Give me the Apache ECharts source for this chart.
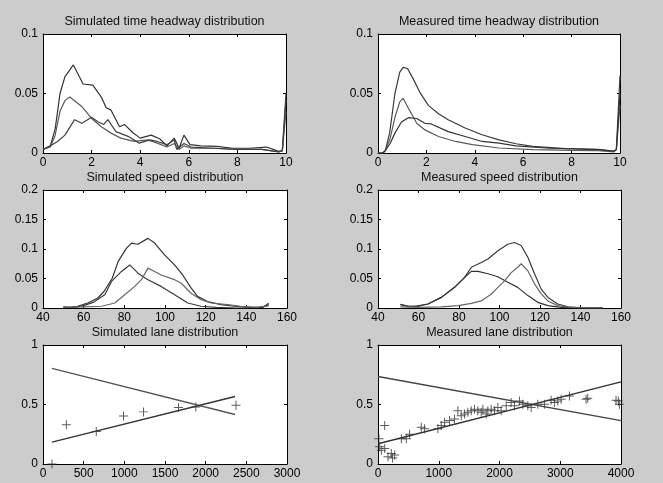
<!DOCTYPE html>
<html><head><meta charset="utf-8">
<script src="https://cdn.jsdelivr.net/npm/echarts@6/dist/echarts.min.js"></script>
<style>html,body{margin:0;padding:0;background:#cccccc}#c{width:663px;height:483px}</style>
</head><body><div id="c"></div><script>
// ---- titles ----
const titles = ['Simulated time headway distribution','Measured time headway distribution',
  'Simulated speed distribution','Measured speed distribution',
  'Simulated lane distribution','Measured lane distribution'];

// ---- simulated time headway ----
const simHwA_x = [0,0.3,0.5,0.7,0.9,1.25,1.65,2.05,2.4,2.6,2.8,3.15,3.35,3.7,4.0,4.45,4.8,5.1,5.4,5.6,5.8,6.05,6.5,7.15,7.8,8.5,9.2,9.7,9.85,10];
const simHwA_y = [0.003,0.006,0.02,0.05,0.064,0.074,0.058,0.057,0.047,0.038,0.036,0.022,0.024,0.017,0.0125,0.015,0.012,0.006,0.0125,0.004,0.015,0.007,0.006,0.0056,0.004,0.004,0.005,0.0014,0.002,0.05];
const simHwB_x = [0,0.3,0.5,0.7,0.9,1.1,1.6,2.0,2.4,2.8,3.2,3.75,4.3,4.7,5.1,5.4,5.6,5.8,6.1,7,8,9,9.7,9.85,10];
const simHwB_y = [0.003,0.005,0.015,0.035,0.044,0.047,0.039,0.029,0.022,0.0167,0.0125,0.0097,0.011,0.0083,0.005,0.008,0.003,0.006,0.004,0.004,0.003,0.003,0.001,0.002,0.035];
const simHwC_x = [0,0.3,0.6,0.9,1.3,1.6,2.0,2.27,2.5,2.67,3.0,3.5,3.96,4.4,4.7,5.1,5.4,5.5,5.8,6.1,7,8,9,9.7,9.85,10];
const simHwC_y = [0.003,0.006,0.0097,0.015,0.028,0.025,0.030,0.026,0.024,0.028,0.018,0.014,0.0083,0.011,0.0097,0.007,0.011,0.003,0.008,0.005,0.004,0.003,0.003,0.001,0.002,0.045];

// ---- measured time headway ----
const measHwA_x = [0,0.2,0.3,0.48,0.7,0.9,1.04,1.22,1.45,1.73,2.08,2.5,2.9,3.6,4.3,5.0,5.7,6.4,7.76,9.1,9.75,9.85,10];
const measHwA_y = [0,0,0.002,0.0167,0.05,0.068,0.072,0.071,0.0625,0.051,0.040,0.033,0.028,0.021,0.0153,0.011,0.0078,0.0056,0.0036,0.0028,0.0014,0.003,0.065];
const measHwB_x = [0,0.2,0.3,0.5,0.7,0.9,1.04,1.3,1.6,1.94,2.5,3.2,3.9,5,6.4,8,9.1,9.75,9.85,10];
const measHwB_y = [0,0,0.002,0.012,0.03,0.043,0.046,0.036,0.025,0.0194,0.0139,0.0097,0.007,0.0042,0.0028,0.0022,0.002,0.001,0.003,0.04];
const measHwC_x = [0,0.2,0.3,0.5,0.7,0.97,1.25,1.6,1.94,2.2,2.9,3.6,4.3,5.0,5.7,7.1,9.1,9.75,9.85,10];
const measHwC_y = [0,0,0.002,0.008,0.0167,0.026,0.0297,0.029,0.025,0.0244,0.018,0.0139,0.0097,0.0083,0.006,0.004,0.003,0.0015,0.003,0.05];

// ---- simulated speed ----
const simSpA_x = [50,53,57,62,67,70,74,77,81,83.5,86.7,91.6,94.9,99.8,104.7,108.7,112.8,116,120.9,127.5,134,142,148,151];
const simSpA_y = [0.002,0.001,0.003,0.0085,0.017,0.028,0.05,0.079,0.101,0.110,0.108,0.118,0.110,0.090,0.073,0.056,0.034,0.0197,0.011,0.0056,0.003,0.001,0.001,0.008];
const simSpB_x = [50,55,60,65,70.4,73.7,78.6,82.7,86.7,91.6,98.1,104.7,111.2,117.7,125,135,145,150,151];
const simSpB_y = [0.001,0.001,0.004,0.01,0.0225,0.045,0.062,0.073,0.059,0.048,0.0366,0.0225,0.0085,0.003,0.001,0,0,0.003,0.006];
const simSpC_x = [50,60,68.8,75.3,80.2,85.1,88.4,91.6,94.9,98.1,104.7,108,112.8,117.7,122.6,130.7,137.2,145,151];
const simSpC_y = [0.001,0.002,0.003,0.0085,0.0225,0.0366,0.048,0.0676,0.062,0.056,0.048,0.042,0.025,0.014,0.0085,0.0056,0.003,0.001,0.004];

// ---- measured speed ----
const measSpA_x = [51,52,55,58,64.7,71.3,77.8,82.8,86.1,91,94.3,99.2,104.1,107.4,110.7,114,117.3,120.6,123.9,128.8,133.8,140,151];
const measSpA_y = [0.006,0.005,0.003,0.003,0.0068,0.018,0.035,0.052,0.069,0.077,0.083,0.097,0.108,0.111,0.106,0.086,0.058,0.032,0.018,0.0068,0.002,0.0005,0];
const measSpB_x = [51,55,60,64.7,71.3,77.8,82.8,86.1,89.4,94.3,99.2,104.1,109,114,118.9,123.9,130.5,140,151];
const measSpB_y = [0.006,0.003,0.003,0.0068,0.018,0.035,0.052,0.062,0.062,0.058,0.053,0.0435,0.035,0.021,0.0096,0.004,0.001,0,0];
const measSpC_x = [51,60,71.3,79.6,86.1,91,96,99.2,102.5,105.8,109,110.7,114,117.3,120.6,123.9,128.8,135.4,145,151];
const measSpC_y = [0.002,0.001,0.002,0.004,0.0079,0.012,0.0237,0.035,0.046,0.060,0.069,0.075,0.063,0.041,0.024,0.012,0.004,0.001,0,0];

// ---- simulated lane ----
const simLaneFitDown_x = [110,2361];
const simLaneFitDown_y = [0.803,0.416];
const simLaneFitUp_x = [110,2361];
const simLaneFitUp_y = [0.184,0.567];
const simLanePts_x = [110,287,655,990,1236,1666,1879,2373];
const simLanePts_y = [0,0.329,0.274,0.403,0.438,0.474,0.48,0.493];

// ---- measured lane ----
const measLaneFitDown_x = [0,4000];
const measLaneFitDown_y = [0.735,0.365];
const measLaneFitUp_x = [0,4000];
const measLaneFitUp_y = [0.17,0.69];
const measLanePts_x = [16,27,55,110,110,164,219,274,240,384,466,521,712,767,986,1041,1096,1178,1260,1315,1370,1425,1479,1534,1589,1644,1699,1726,1781,1808,1863,1918,1973,2027,2110,2192,2247,2329,2384,2466,2521,2630,2740,2849,2904,2959,3014,3151,3425,3452,3918,3956,3973];
const measLanePts_y = [0.213,0.144,0.116,0.130,0.323,0.061,0.088,0.075,0.05,0.213,0.213,0.249,0.309,0.296,0.296,0.323,0.351,0.365,0.378,0.448,0.406,0.420,0.434,0.448,0.461,0.448,0.434,0.461,0.420,0.448,0.461,0.448,0.475,0.448,0.489,0.517,0.489,0.530,0.503,0.489,0.475,0.503,0.503,0.536,0.517,0.530,0.544,0.572,0.544,0.552,0.536,0.530,0.503];

// ---- axis ranges ----
const xRanges = [[0,10,2],[0,10,2],[40,160,20],[40,160,20],[0,3000,500],[0,4000,1000]];
const yRanges = [[0,0.1,0.05],[0,0.1,0.05],[0,0.2,0.05],[0,0.2,0.05],[0,1,0.5],[0,1,0.5]];

const zip = (xs, ys) => xs.map((x, i) => [x, ys[i]]);
const fmt = v => String(parseFloat(v.toFixed(6)));

const gridBoxes = [
  {left:43, top:34, width:243, height:119},
  {left:378, top:34, width:242, height:119},
  {left:43, top:190, width:244, height:118},
  {left:378, top:190, width:243, height:118},
  {left:43, top:345, width:244, height:119},
  {left:378, top:345, width:243, height:119}
];
const FONT = "'Liberation Sans', Arial, sans-serif";

const grid = gridBoxes.map(b => Object.assign({show:true, backgroundColor:'#ffffff', borderWidth:0, containLabel:false, outerBoundsMode:'none'}, b));
const xAxis = [], yAxis = [];
gridBoxes.forEach((b, i) => {
  const [xmin, xmax, xi] = xRanges[i];
  const [ymin, ymax, yi] = yRanges[i];
  const common = {axisLine:{show:true, onZero:false, lineStyle:{color:'#000', width:1}},
    axisTick:{show:true, inside:true, length:3, lineStyle:{color:'#000', width:1}},
    splitLine:{show:false}};
  xAxis.push(Object.assign({type:'value', gridIndex:i, position:'bottom', min:xmin, max:xmax, interval:xi,
    axisLabel:{color:'#000', fontSize:12, fontFamily:FONT, margin:4, formatter:fmt, showMinLabel:true, showMaxLabel:true, hideOverlap:false}}, common));
  xAxis.push(Object.assign({type:'value', gridIndex:i, position:'top', min:xmin, max:xmax, interval:xi,
    axisLabel:{show:false}}, common));
  yAxis.push(Object.assign({type:'value', gridIndex:i, position:'left', min:ymin, max:ymax, interval:yi,
    axisLabel:{color:'#000', fontSize:12, fontFamily:FONT, margin:5, formatter:fmt, showMinLabel:true, showMaxLabel:true, hideOverlap:false}}, common));
  yAxis.push(Object.assign({type:'value', gridIndex:i, position:'right', min:ymin, max:ymax, interval:yi,
    axisLabel:{show:false}}, common));
});

const series = [];
function line(i, xs, ys, color, w) {
  series.push({type:'line', xAxisIndex:2*i, yAxisIndex:2*i, data:zip(xs, ys), showSymbol:false, symbol:'none',
    lineStyle:{color:color, width:w || 1.2}, itemStyle:{color:color}, silent:true, animation:false, clip:true});
}
function pts(i, xs, ys) {
  series.push({type:'scatter', xAxisIndex:2*i, yAxisIndex:2*i, data:zip(xs, ys),
    symbol:'path://M0,4.45H10V5.55H0Z M4.45,0H5.55V10H4.45Z', symbolSize:9, symbolKeepAspect:true,
    itemStyle:{color:'#333'}, silent:true, animation:false, clip:false});
}
line(0, simHwA_x, simHwA_y, '#333');
line(0, simHwB_x, simHwB_y, '#5a5a5a');
line(0, simHwC_x, simHwC_y, '#404040');
line(1, measHwA_x, measHwA_y, '#3a3a3a');
line(1, measHwB_x, measHwB_y, '#5a5a5a');
line(1, measHwC_x, measHwC_y, '#333');
line(2, simSpA_x, simSpA_y, '#333');
line(2, simSpB_x, simSpB_y, '#3a3a3a');
line(2, simSpC_x, simSpC_y, '#666');
line(3, measSpA_x, measSpA_y, '#3a3a3a');
line(3, measSpB_x, measSpB_y, '#333');
line(3, measSpC_x, measSpC_y, '#666');
line(4, simLaneFitDown_x, simLaneFitDown_y, '#555', 1.3);
line(4, simLaneFitUp_x, simLaneFitUp_y, '#333', 1.4);
pts(4, simLanePts_x, simLanePts_y);
line(5, measLaneFitDown_x, measLaneFitDown_y, '#444', 1.4);
line(5, measLaneFitUp_x, measLaneFitUp_y, '#333', 1.5);
pts(5, measLanePts_x, measLanePts_y);

const titleY = [22, 22, 178, 178, 333, 333];
const graphic = gridBoxes.map((b, i) => ({type:'text', x: b.left + b.width/2, y: titleY[i],
  style:{text:titles[i], fill:'#111', font:'12.5px ' + FONT, textAlign:'center', textVerticalAlign:'middle', verticalAlign:'middle'}}));

const chart = echarts.init(document.getElementById('c'), null, {renderer:'canvas'});
chart.setOption({backgroundColor:'#cccccc', animation:false, grid, xAxis, yAxis, series, graphic});
</script></body></html>
